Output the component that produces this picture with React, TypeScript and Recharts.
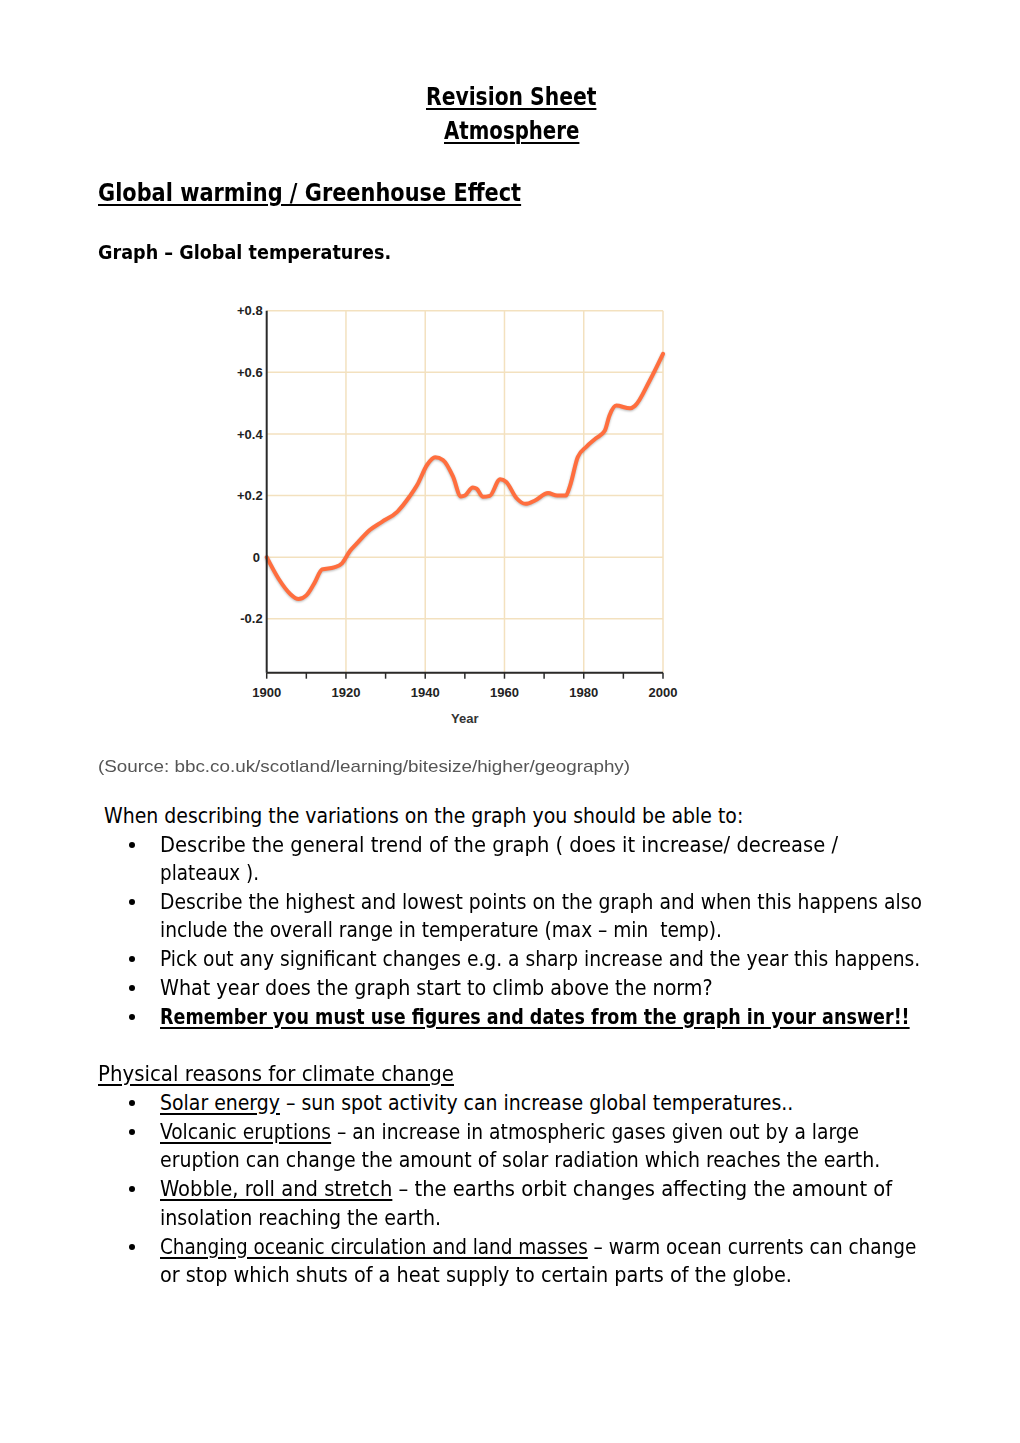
import React, { useLayoutEffect, useRef, useState } from 'react';
import { LineChart, Line, XAxis, YAxis, CartesianGrid, ReferenceLine } from 'recharts';

const years = [1900, 1903, 1906, 1908, 1910, 1912, 1914, 1917, 1919, 1921, 1923, 1926, 1929, 1933, 1936, 1938, 1940.5, 1942.5, 1944.5, 1947, 1949, 1950, 1952, 1953, 1954.5, 1956.3, 1958.9, 1960.4, 1963, 1965.3, 1967.7, 1971, 1973.3, 1975.5, 1976.5, 1978.5, 1980.7, 1983, 1985.3, 1986.5, 1988.2, 1991.7, 1992.9, 1996.6, 2000];
const anomalies = [0, -0.07, -0.12, -0.136, -0.124, -0.085, -0.04, -0.033, -0.02, 0.02, 0.048, 0.088, 0.114, 0.148, 0.196, 0.235, 0.3, 0.324, 0.315, 0.262, 0.197, 0.2, 0.226, 0.222, 0.196, 0.199, 0.253, 0.245, 0.192, 0.173, 0.184, 0.208, 0.2, 0.2, 0.23, 0.325, 0.359, 0.385, 0.41, 0.46, 0.492, 0.483, 0.491, 0.572, 0.66];
const xTicks = [1900, 1910, 1920, 1930, 1940, 1950, 1960, 1970, 1980, 1990, 2000];
const xLabelled = [1900, 1920, 1940, 1960, 1980, 2000];
const verticalGrid = [1920, 1940, 1960, 1980, 2000];
const yTicks = [-0.2, 0, 0.2, 0.4, 0.6, 0.8];
const yLabels = ['-0.2', '0\u2009', '+0.2', '+0.4', '+0.6', '+0.8'];

const data = years.map((y, i) => ({ year: y, temp: anomalies[i] }));

const GRID = '#f3e1bf';
const BODY_FONT = '"DejaVu Sans Condensed", "DejaVu Sans", sans-serif';
const HEAD_FONT = '"DejaVu Sans", sans-serif';
const AXIS_FONT = '"Liberation Sans", Arial, sans-serif';

type FitProps = {
  x: number; y: number; w: number; size: number; bold?: boolean; family?: string;
  color?: string; underline?: boolean; children: React.ReactNode;
};

function Fit({ x, y, w, size, bold, family, color, underline, children }: FitProps) {
  const ref = useRef<HTMLSpanElement>(null);
  const [s, setS] = useState(1);
  useLayoutEffect(() => {
    if (ref.current) {
      const nw = ref.current.offsetWidth;
      if (nw > 0) setS(w / nw);
    }
  }, [w]);
  const lh = Math.round(size * 1.3);
  return (
    <div
      style={{
        position: 'absolute',
        left: x,
        top: y - lh / 2,
        whiteSpace: 'pre',
        lineHeight: `${lh}px`,
        fontSize: size,
        fontFamily: family || BODY_FONT,
        fontWeight: bold ? 700 : 400,
        color: color || '#000',
        transformOrigin: '0 50%',
        transform: `scaleX(${s})`,
      }}
    >
      <span
        ref={ref}
        style={{
          textDecoration: underline ? 'underline' : 'none',
          textDecorationThickness: underline ? 2 : undefined,
          textUnderlineOffset: underline ? 3 : undefined,
        }}
      >
        {children}
      </span>
    </div>
  );
}

const U = ({ children }: { children: React.ReactNode }) => (
  <span style={{ textDecoration: 'underline', textDecorationThickness: 1.5, textUnderlineOffset: 3 }}>{children}</span>
);

const Bullet = ({ y }: { y: number }) => (
  <div style={{ position: 'absolute', left: 129, top: y - 3, width: 6, height: 6, borderRadius: 3, background: '#000' }} />
);

function Chart() {
  return (
    <div style={{ position: 'absolute', left: 200, top: 290 }}>
      <style>{'.temp-line path{filter:drop-shadow(0px 1.5px 1px rgba(0,0,0,0.28));}'}</style>
      <LineChart
        width={500}
        height={450}
        data={data}
        margin={{ top: 20.7, right: 37, left: 6.7, bottom: 15.3 }}
      >
        <CartesianGrid stroke={GRID} strokeWidth={1.5} vertical={false} />
        {verticalGrid.map((v) => (
          <ReferenceLine key={v} x={v} stroke={GRID} strokeWidth={1.5} />
        ))}
        <XAxis
          dataKey="year"
          type="number"
          domain={[1900, 2000]}
          ticks={xTicks}
          interval={0}
          tickFormatter={(v: number) => (xLabelled.includes(v) ? String(v) : '')}
          height={52}
          tickSize={6}
          tickMargin={9}
          axisLine={{ stroke: '#2a2a2a', strokeWidth: 2 }}
          tickLine={{ stroke: '#2a2a2a', strokeWidth: 1.5 }}
          tick={{ fill: '#222', fontSize: 13, fontWeight: 700, fontFamily: AXIS_FONT }}
          label={{ value: 'Year', position: 'insideBottom', offset: 2, fill: '#333', fontSize: 13, fontWeight: 700, fontFamily: AXIS_FONT }}
        />
        <YAxis
          type="number"
          domain={[-0.375, 0.8]}
          ticks={yTicks}
          allowDataOverflow
          width={60}
          tickLine={false}
          tickSize={0}
          tickMargin={4}
          interval={0}
          tickFormatter={(v: number) => yLabels[yTicks.findIndex((t) => Math.abs(t - v) < 1e-6)] ?? ''}
          axisLine={{ stroke: '#2a2a2a', strokeWidth: 2 }}
          tick={{ fill: '#222', fontSize: 13, fontWeight: 700, fontFamily: AXIS_FONT }}
        />
        <Line
          className="temp-line"
          type="monotone"
          dataKey="temp"
          stroke="#ff6e3e"
          strokeWidth={4}
          dot={false}
          activeDot={false}
          isAnimationActive={false}
          strokeLinecap="round"
          strokeLinejoin="round"
        />
      </LineChart>
    </div>
  );
}

export default function App() {
  return (
    <div style={{ position: 'absolute', left: 0, top: 0, width: 1020, height: 1443, background: '#fff', overflow: 'hidden' }}>
      <Fit x={426} y={97} w={170} size={24} bold underline family={HEAD_FONT}>Revision Sheet</Fit>
      <Fit x={444} y={131} w={135} size={24} bold underline family={HEAD_FONT}>Atmosphere</Fit>
      <Fit x={98} y={193} w={423} size={24} bold underline family={HEAD_FONT}>Global warming / Greenhouse Effect</Fit>
      <Fit x={98} y={252} w={293} size={19} bold family={HEAD_FONT}>Graph – Global temperatures.</Fit>

      <Chart />

      <Fit x={98} y={767} w={532} size={17} family={AXIS_FONT} color="#555">(Source: bbc.co.uk/scotland/learning/bitesize/higher/geography)</Fit>

      <Fit x={104} y={816} w={639} size={21}>When describing the variations on the graph you should be able to:</Fit>
      <Bullet y={845} />
      <Fit x={160} y={845} w={678} size={21}>Describe the general trend of the graph ( does it increase/ decrease /</Fit>
      <Fit x={160} y={873} w={99} size={21}>plateaux ).</Fit>
      <Bullet y={902} />
      <Fit x={160} y={902} w={762} size={21}>Describe the highest and lowest points on the graph and when this happens also</Fit>
      <Fit x={160} y={930} w={562} size={21}>include the overall range in temperature (max – min  temp).</Fit>
      <Bullet y={959} />
      <Fit x={160} y={959} w={760} size={21}>Pick out any significant changes e.g. a sharp increase and the year this happens.</Fit>
      <Bullet y={988} />
      <Fit x={160} y={988} w={553} size={21}>What year does the graph start to climb above the norm?</Fit>
      <Bullet y={1017} />
      <Fit x={160} y={1017} w={750} size={21} bold underline>Remember you must use figures and dates from the graph in your answer!!</Fit>

      <Fit x={98} y={1074} w={356} size={21} underline>Physical reasons for climate change</Fit>
      <Bullet y={1103} />
      <Fit x={160} y={1103} w={633} size={21}><U>Solar energy</U> – sun spot activity can increase global temperatures..</Fit>
      <Bullet y={1132} />
      <Fit x={160} y={1132} w={699} size={21}><U>Volcanic eruptions</U> – an increase in atmospheric gases given out by a large</Fit>
      <Fit x={160} y={1160} w={720} size={21}>eruption can change the amount of solar radiation which reaches the earth.</Fit>
      <Bullet y={1189} />
      <Fit x={160} y={1189} w={732} size={21}><U>Wobble, roll and stretch</U> – the earths orbit changes affecting the amount of</Fit>
      <Fit x={160} y={1218} w={281} size={21}>insolation reaching the earth.</Fit>
      <Bullet y={1247} />
      <Fit x={160} y={1247} w={756} size={21}><U>Changing oceanic circulation and land masses</U> – warm ocean currents can change</Fit>
      <Fit x={160} y={1275} w={632} size={21}>or stop which shuts of a heat supply to certain parts of the globe.</Fit>
    </div>
  );
}
